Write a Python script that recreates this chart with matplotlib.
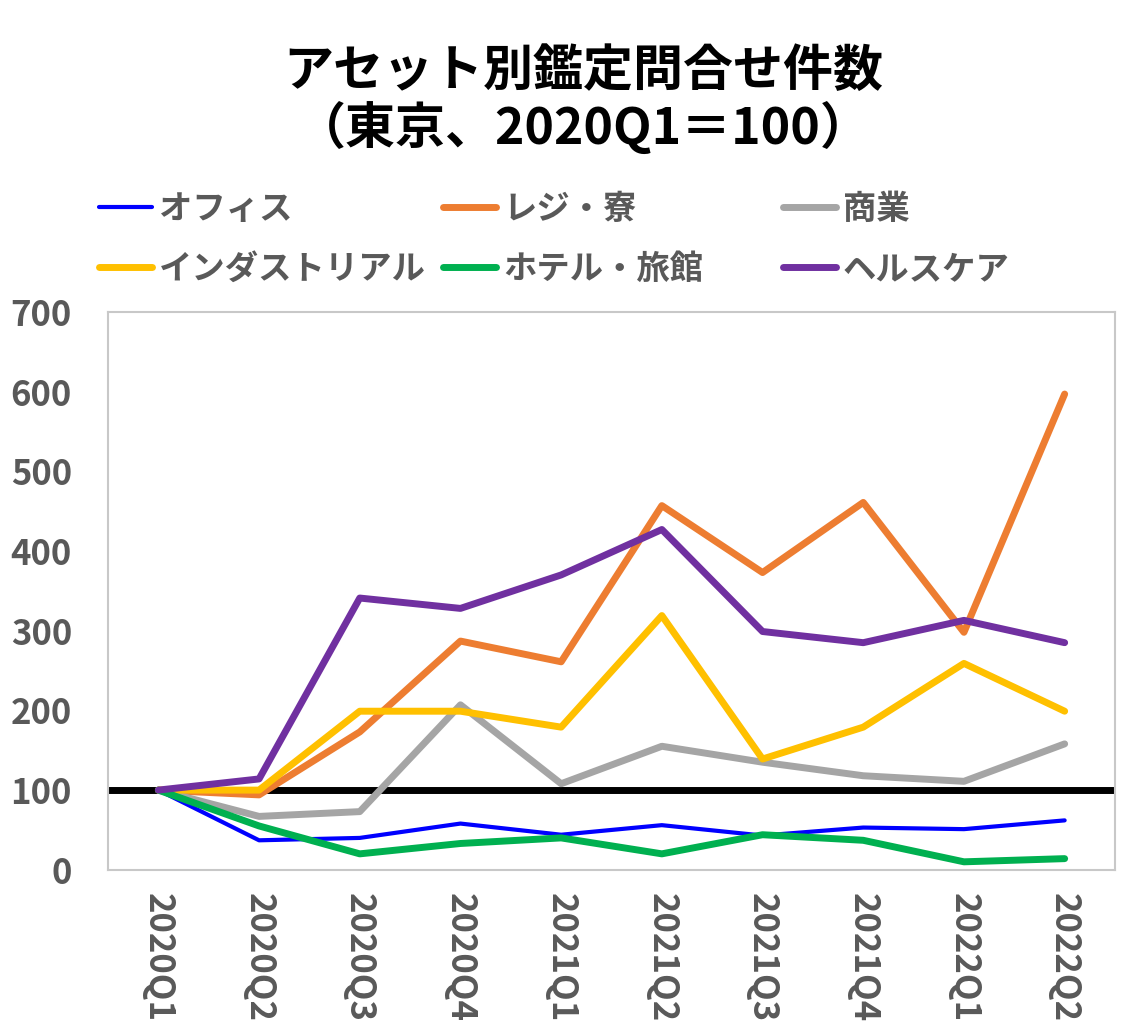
import numpy as np
import matplotlib.pyplot as plt

plt.rcParams['font.family'] = ['Noto Sans CJK JP', 'DejaVu Sans']

# data
quarters = ['2020Q1', '2020Q2', '2020Q3', '2020Q4', '2021Q1',
            '2021Q2', '2021Q3', '2021Q4', '2022Q1', '2022Q2']
office = [100, 37, 40, 58, 44, 56, 43, 53, 51, 62]
resi = [100, 94, 173, 287, 261, 457, 373, 461, 298, 597]
retail = [100, 67, 73, 207, 108, 155, 135, 118, 111, 158]
indus = [100, 100, 199, 199, 179, 319, 139, 179, 259, 199]
hotel = [100, 55, 20, 33, 40, 20, 44, 37, 10, 14]
health = [100, 114, 341, 328, 370, 427, 299, 285, 313, 285]

labels = ['オフィス', 'レジ・寮', '商業', 'インダストリアル', 'ホテル・旅館', 'ヘルスケア']
colors = ['#0000FF', '#ED7D31', '#A5A5A5', '#FFC000', '#00B050', '#7030A0']
series = [office, resi, retail, indus, hotel, health]
widths = [3, 5, 5, 5, 5, 5]

grey = '#595959'

fig = plt.figure(figsize=(11.43, 10.33), dpi=100)
ax = fig.add_axes([0.0945, 0.158, 0.881, 0.540])

x = np.arange(len(quarters))
ax.axhline(100, color='black', lw=5, zorder=1)
lines = []
for s, c, w, lab in zip(series, colors, widths, labels):
    ln, = ax.plot(x, s, color=c, lw=w, label=lab, solid_capstyle='round', zorder=2)
    lines.append(ln)

ax.set_xlim(-0.5, 9.5)
ax.set_ylim(0, 700)
ax.set_yticks(range(0, 701, 100))
ax.set_xticks(x)
ax.set_xticklabels(quarters, rotation=270, fontsize=25, fontweight='bold', color=grey)
for t in ax.get_yticklabels():
    t.set_fontsize(25)
    t.set_fontweight('bold')
    t.set_color(grey)
ax.tick_params(length=0)
ax.tick_params(axis='y', pad=26)
ax.tick_params(axis='x', pad=17)
for sp in ax.spines.values():
    sp.set_color('#C8C8C8')
    sp.set_linewidth(1.5)

fig.text(0.51, 0.903, 'アセット別鑑定問合せ件数\n（東京、2020Q1＝100）', ha='center', va='center',
         fontsize=36, fontweight='bold', color='black', linespacing=1.12)

# legend, three fixed columns
xs = [0.075, 0.376, 0.673]
for i in range(3):
    leg = fig.legend([lines[i], lines[i + 3]], [labels[i], labels[i + 3]],
                     loc='upper left', bbox_to_anchor=(xs[i], 0.826), frameon=False,
                     handlelength=1.6, handletextpad=0.2, labelspacing=0.8,
                     prop={'size': 24, 'weight': 'bold'}, borderaxespad=0)
    for t in leg.get_texts():
        t.set_color(grey)

fig.savefig('out.png', dpi=100)
